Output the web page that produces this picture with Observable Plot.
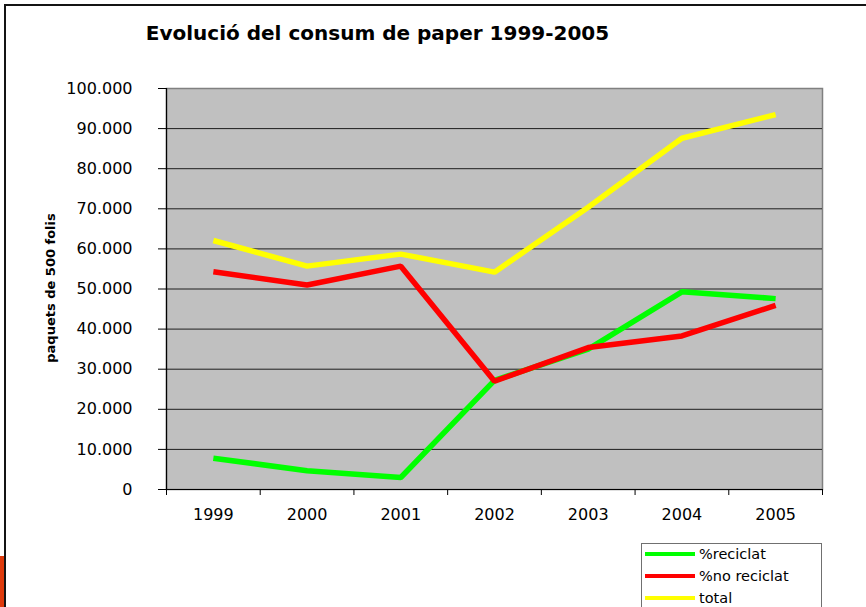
<!DOCTYPE html>
<html>
<head>
<meta charset="utf-8">
<script src="https://cdn.jsdelivr.net/npm/d3@7"></script>
<script src="https://cdn.jsdelivr.net/npm/@observablehq/plot@0.6"></script>
<style>
  html, body { margin: 0; padding: 0; background: #fff; }
  #wrap { position: relative; width: 866px; height: 607px; overflow: hidden; font-family: "DejaVu Sans", Verdana, sans-serif; }
  #frame { position: absolute; left: 4px; top: 4px; width: 900px; height: 700px; border-top: 2px solid #141414; border-left: 2px solid #141414; }
  #deco { position: absolute; left: 0; top: 556px; width: 4px; height: 51px; background: #de3a0c; }
  #title { position: absolute; left: 0; top: 21px; width: 755px; text-align: center; font-weight: bold; font-size: 20px; color: #000; }
  #ylabel { position: absolute; left: 50px; top: 288px; transform: translate(-50%, -50%) rotate(-90deg); white-space: nowrap; font-weight: bold; font-size: 13px; color: #000; }
  #chart { position: absolute; left: 0; top: 0; }
  #legend { position: absolute; left: 641px; top: 543px; width: 179px; height: 80px; border: 1px solid #707070; background: #fff; }
  .row { position: absolute; left: 3px; height: 20px; display: flex; align-items: center; font-size: 14.5px; color: #000; }
  .sw { width: 50px; height: 4px; margin-right: 4px; }
</style>
</head>
<body>
<div id="wrap">
  <div id="frame"></div>
  <div id="deco"></div>
  <div id="chart"></div>
  <div id="title">Evolució del consum de paper 1999-2005</div>
  <div id="ylabel">paquets de 500 folis</div>
  <div id="legend"></div>
</div>
<script>
const years = [1999, 2000, 2001, 2002, 2003, 2004, 2005];
const reciclat = [7800, 4700, 3000, 27200, 35000, 49300, 47600];
const noReciclat = [54300, 51000, 55700, 27000, 35400, 38300, 45900];
const total = [62100, 55700, 58700, 54200, 70400, 87600, 93500];
const seriesNames = ["%reciclat", "%no reciclat", "total"];
const seriesColors = ["#00ff00", "#ff0000", "#ffff00"];
const yTicks = [0, 10000, 20000, 30000, 40000, 50000, 60000, 70000, 80000, 90000, 100000];

const seriesValues = [reciclat, noReciclat, total];
const data = [];
seriesNames.forEach((name, s) => {
  years.forEach((yr, i) => data.push({series: name, year: yr, value: seriesValues[s][i]}));
});

const boundaries = years.map(y => y - 0.5).concat([years[years.length - 1] + 0.5]);
const fmt = d => d === 0 ? "0" : d3.format(",")(d).replace(/,/g, ".");

const chart = Plot.plot({
  width: 866,
  height: 530,
  marginLeft: 166,
  marginRight: 44,
  marginTop: 88,
  marginBottom: 41,
  style: { fontFamily: "DejaVu Sans, Verdana, sans-serif", fontSize: "16px", color: "#000", background: "transparent" },
  x: { type: "linear", domain: [boundaries[0], boundaries[boundaries.length - 1]] },
  y: { domain: [0, 100000] },
  color: { domain: seriesNames, range: seriesColors },
  marks: [
    Plot.frame({ fill: "#c0c0c0", stroke: "#808080", strokeWidth: 1.5 }),
    Plot.gridY(yTicks.slice(1, -1), { stroke: "#000", strokeOpacity: 0.85, strokeWidth: 1 }),
    Plot.line(data, {
      x: "year", y: "value", z: "series", stroke: "series",
      strokeWidth: 5.5, strokeLinejoin: "miter", strokeLinecap: "butt"
    }),
    Plot.ruleX([boundaries[0]], { stroke: "#000", strokeWidth: 1.2 }),
    Plot.ruleY([0], { stroke: "#000", strokeWidth: 1.2 }),
    Plot.axisY({ ticks: yTicks, tickSize: 8, tickPadding: 26, tickFormat: fmt, label: null, stroke: "#000" }),
    Plot.axisX({ ticks: boundaries, tickSize: 6, tickFormat: () => "", label: null, stroke: "#000" }),
    Plot.axisX({ ticks: years, tickSize: 0, tickPadding: 19, tickFormat: d => String(d), label: null })
  ]
});
document.getElementById("chart").appendChild(chart);

const legend = document.getElementById("legend");
seriesNames.forEach((name, i) => {
  const row = document.createElement("div");
  row.className = "row";
  row.style.top = (i * 22 + 0) + "px";
  const sw = document.createElement("div");
  sw.className = "sw";
  sw.style.background = seriesColors[i];
  const t = document.createElement("span");
  t.textContent = name;
  row.appendChild(sw);
  row.appendChild(t);
  legend.appendChild(row);
});
</script>
</body>
</html>
